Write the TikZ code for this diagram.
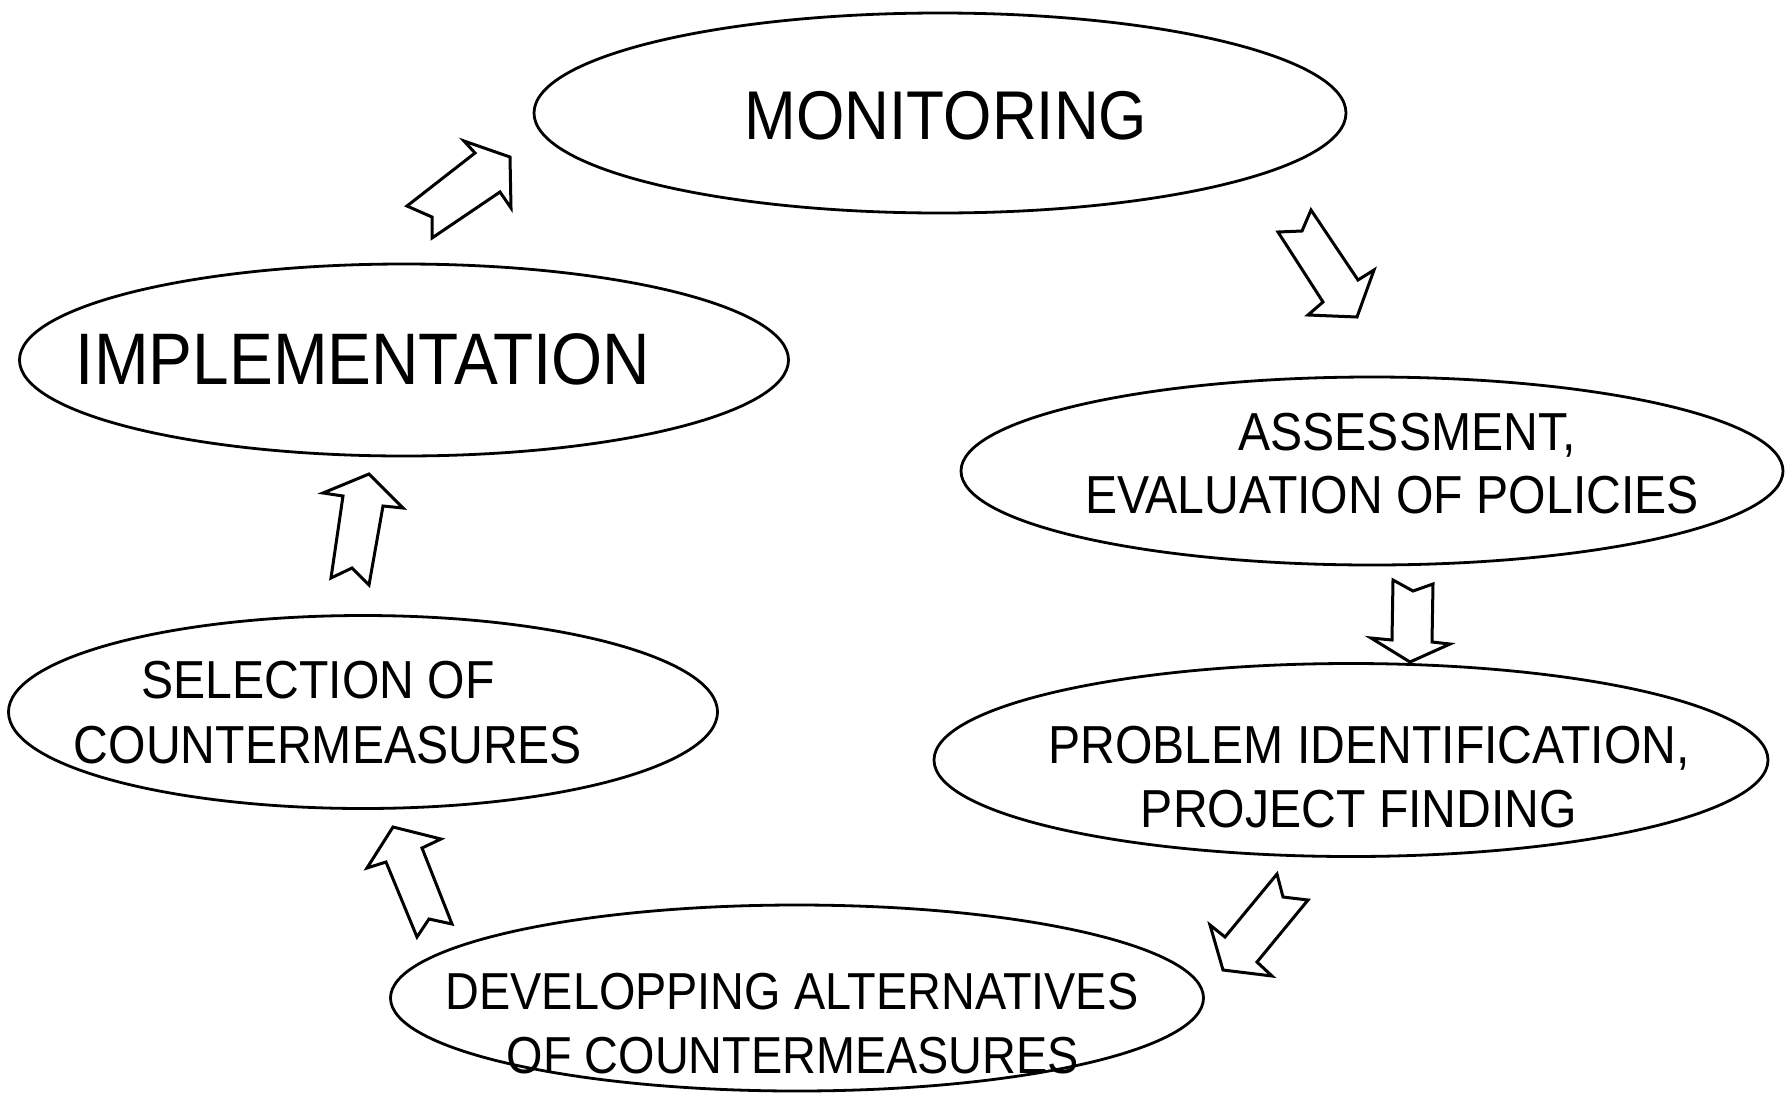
\documentclass[tikz,border=0pt]{standalone}
\usepackage{fontspec}
\setmainfont{Liberation Sans}[FakeStretch=0.9]
\usetikzlibrary{shapes.geometric}
\begin{document}
\begin{tikzpicture}[x=1pt,y=-1pt,
  oval/.style={draw,ellipse,line width=2.8pt,inner sep=0pt},
  bigtxt/.style={anchor=base,inner sep=0pt,font=\fontsize{69}{80}\selectfont},
  hugetxt/.style={anchor=base,inner sep=0pt,font=\fontsize{73}{84}\selectfont},
  midtxt/.style={anchor=base,inner sep=0pt,font=\fontsize{53.5}{64}\selectfont},
  smalltxt/.style={anchor=base,inner sep=0pt,font=\fontsize{52}{64}\selectfont},
  blockarrow/.style={draw,line width=3pt,line join=miter,fill=white}]
\useasboundingbox (0,0) rectangle (1786,1093);
% ellipses
\node[oval,minimum width=812pt,minimum height=200pt] (mon) at (940,113) {};
\node[oval,minimum width=769pt,minimum height=192pt] (imp) at (404,360) {};
\node[oval,minimum width=822pt,minimum height=188pt] (ass) at (1372,471) {};
\node[oval,minimum width=834pt,minimum height=193pt] (pro) at (1351,760) {};
\node[oval,minimum width=709pt,minimum height=193pt] (sel) at (363,712) {};
\node[oval,minimum width=813pt,minimum height=186pt] (dev) at (797,998) {};
% texts
\node[bigtxt] (tmon) at (946,139) {MONITORING};
\node[hugetxt] (timp) at (363,384) {IMPLEMENTATION};
\node[midtxt] (tass1) at (1407,450) {ASSESSMENT,};
\node[midtxt] (tass2) at (1392,513) {EVALUATION OF POLICIES};
\node[midtxt] (tpro1) at (1369,763) {PROBLEM IDENTIFICATION,};
\node[midtxt] (tpro2) at (1359,827) {PROJECT FINDING};
\node[midtxt] (tsel1) at (318,698) {SELECTION OF};
\node[midtxt] (tsel2) at (328,763) {COUNTERMEASURES};
\node[smalltxt] (tdev1) at (792,1009) {DEVELOPPING ALTERNATIVES};
\node[smalltxt] (tdev2) at (793,1073) {OF COUNTERMEASURES};
% block arrows
\draw[blockarrow] (464,141) -- (475,153) -- (407,206) -- (432,217) -- (432,238) -- (500,192) -- (511,208) -- (510,157) -- cycle;
\draw[blockarrow] (1278,232) -- (1302,231) -- (1311,210) -- (1358,280) -- (1374,270) -- (1357,317) -- (1308,315) -- (1323,302) -- cycle;
\draw[blockarrow] (1393,580) -- (1413,591) -- (1433,584) -- (1432,642) -- (1450,644) -- (1410,662) -- (1371,638) -- (1392,640) -- cycle;
\draw[blockarrow] (1277,874) -- (1283,897) -- (1308,900) -- (1257,962) -- (1272,976) -- (1223,970) -- (1210,925) -- (1225,937) -- cycle;
\draw[blockarrow] (393,827) -- (441,839) -- (422,848) -- (452,924) -- (429,919) -- (417,937) -- (386,862) -- (367,868) -- cycle;
\draw[blockarrow] (369,474) -- (403,508) -- (383,506) -- (369,585) -- (352,568) -- (331,578) -- (343,496) -- (323,493) -- cycle;
\end{tikzpicture}
\end{document}
